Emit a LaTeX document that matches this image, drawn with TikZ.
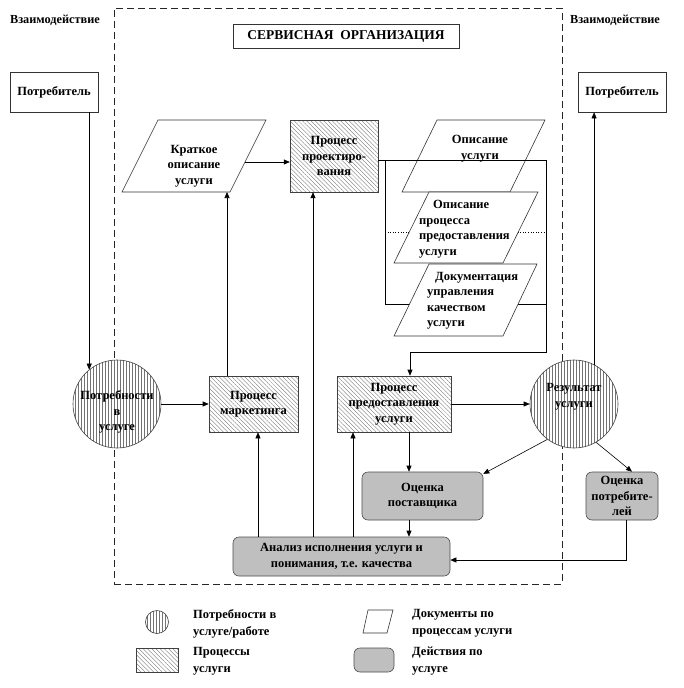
\documentclass[tikz,border=0pt]{standalone}
\usepackage{fontspec}
\setmainfont{Liberation Serif}
\usetikzlibrary{arrows.meta,patterns.meta}
\begin{document}
\begin{tikzpicture}[x=1pt,y=-1pt,
  every node/.style={font=\bfseries\fontsize{12.5}{15.5}\selectfont, align=center, inner sep=0pt},
  ln/.style={line width=0.6pt, draw=black},
  arr/.style={ln, -{Triangle[length=6pt,width=5pt]}},
  boxc/.style={draw=black!80, line width=0.6pt, fill=white},
  proc/.style={draw=black!75, line width=0.6pt, preaction={fill=white},
    pattern={Lines[angle=-45,distance=3pt,line width=0.35pt]}, pattern color=black!55},
  needc/.style={circle, draw=black!75, line width=0.6pt, preaction={fill=white},
    pattern={Lines[angle=90,distance=3pt,line width=0.35pt]}, pattern color=black!55},
  act/.style={draw=black!70, line width=0.6pt, fill=black!25, rounded corners=6pt},
  docsh/.style={draw=black!80, line width=0.6pt, fill=white},
  small/.style={font=\bfseries\fontsize{12.3}{14}\selectfont},
  ttl/.style={font=\bfseries\fontsize{13.5}{16}\selectfont},
  leg/.style={anchor=west, align=left, font=\bfseries\fontsize{12.5}{17}\selectfont}
]
\useasboundingbox (0,0) rectangle (684,688);

% organisation border
\node[draw=black!85, line width=0.7pt, dash pattern=on 7pt off 4pt,
  minimum width=448, minimum height=576] (org) at (338,296) {};
\node[boxc, ttl, minimum width=226, minimum height=24] (title) at (346,36) {СЕРВИСНАЯ\ \ ОРГАНИЗАЦИЯ};

\node[small] (vzL) at (55,20) {Взаимодействие};
\node[small] (vzR) at (615,20) {Взаимодействие};

\node[boxc, minimum width=88, minimum height=40] (potL) at (54,92) {Потребитель};
\node[boxc, minimum width=88, minimum height=40] (potR) at (622,92) {Потребитель};

% bracket behind the documents
\coordinate (brTL) at (385,160);
\coordinate (brTR) at (546,160);
\coordinate (brBL) at (385,304);
\coordinate (brBR) at (546,304);
\coordinate (brDn) at (546,352);
\coordinate (brIn) at (410,352);
\coordinate (dotL) at (385,232);
\coordinate (dotR) at (546,232);

\node[proc, minimum width=88, minimum height=72] (proekt) at (334,156) {Процесс\\проектиро-\\вания};

\draw[ln] (proekt.east |- brTL) -- (brTL) -- (brBL) -- (brBR);
\draw[ln, dotted] (dotL) -- (dotR);

% documents
\draw[docsh] (158,120) -- (266,120) -- (230,192) -- (122,192) -- cycle;
\node[minimum width=108, minimum height=72] (krat) at (194,156) {};
\node (kratT) at (194,166) {Краткое\\описание\\услуги};

\draw[docsh] (437,120) -- (545,120) -- (510,192) -- (402,192) -- cycle;
\node[minimum width=108, minimum height=72] (opis) at (473.5,156) {};
\node (opisT) at (480,148.5) {Описание\\услуги};

\draw[docsh] (429,192) -- (538,192) -- (503,263) -- (394,263) -- cycle;
\node[minimum width=109, minimum height=71] (opproc) at (466,227.5) {};
\node[anchor=west, align=left] (opprocT) at (419,229) {\hspace*{14pt}Описание\\процесса\\предоставления\\услуги};

\draw[docsh] (429,264) -- (537,264) -- (503,336) -- (394,336) -- cycle;
\node[minimum width=108, minimum height=72] (docupr) at (465.5,300) {};
\node[anchor=west, align=left] (docuprT) at (427,301) {\hspace*{8pt}Документация\\управления\\качеством\\услуги};

% main row
\node[needc, minimum size=88] (need) at (117,404) {};
\node (needT) at (117,412) {Потребности\\в\\услуге};
\node[proc, minimum width=89, minimum height=56] (mark) at (253.5,404) {Процесс\\маркетинга};
\node[proc, minimum width=114, minimum height=56] (predost) at (394,404) {Процесс\\предоставления\\услуги};
\node[needc, minimum size=88] (res) at (574,404) {};
\node (resT) at (574,397) {Результат\\услуги};

\node[act, minimum width=121, minimum height=48] (ocpost) at (422.5,496) {Оценка\\поставщика};
\node[act, minimum width=72, minimum height=48] (ocpotr) at (622,496) {Оценка\\потребите-\\лей};
\node[act, minimum width=217, minimum height=39] (analiz) at (341.5,556.5) {Анализ исполнения услуги и\\понимания, т.е. качества};

% connectors
\coordinate (kratB) at (227,192);
\coordinate (kratR) at (245,162);
\coordinate (xa) at (258,0);
\coordinate (xb) at (313,0);
\coordinate (xc) at (353,0);
\coordinate (xe) at (409,0);
\coordinate (xd) at (632,0);
\coordinate (xf) at (626,0);
\coordinate (yy) at (0,560);

\draw[arr] (potL.south -| need.129.5) -- (need.129.5);
\draw[arr] (need.east) -- (mark.west);
\draw[arr] (mark.north -| kratB) -- (kratB);
\draw[arr] (kratR) -- (kratR -| proekt.west);
\draw[arr] (brTL) -- (brTR) -- (brDn) -- (brIn) -- (brIn |- predost.north);
\draw[arr] (analiz.north -| xa) -- (mark.south -| xa);
\draw[arr] (analiz.north -| xb) -- (proekt.south -| xb);
\draw[arr] (analiz.north -| xc) -- (predost.south -| xc);
\draw[arr] (predost.east) -- (res.west);
\draw[arr] (res.63) -- (potR.south -| res.63);
\draw[arr] (res.233) -- (ocpost.20);
\draw[arr] (res.-60) -- (ocpotr.north -| xd);
\draw[arr] (predost.south -| xe) -- (ocpost.north -| xe);
\draw[arr] (ocpost.south -| xe) -- (analiz.north -| xe);
\draw[arr] (ocpotr.south -| xf) -- (xf |- yy) -- (analiz.east |- yy);

% legend
\node[needc, minimum size=23] (lgN) at (157,622) {};
\node[leg] (lgNT) at (193,623.5) {Потребности в\\услуге/работе};
\node[proc, minimum width=42, minimum height=24] (lgP) at (157,660) {};
\node[leg] (lgPT) at (193,661.5) {Процессы\\услуги};
\draw[docsh] (368,610) -- (393,610) -- (387,633) -- (363,633) -- cycle;
\node[leg] (lgDT) at (412,623.5) {Документы по\\процессам услуги};
\node[act, minimum width=40, minimum height=24] (lgA) at (374,660) {};
\node[leg] (lgAT) at (412,661.5) {Действия по\\услуге};
\end{tikzpicture}
\end{document}
